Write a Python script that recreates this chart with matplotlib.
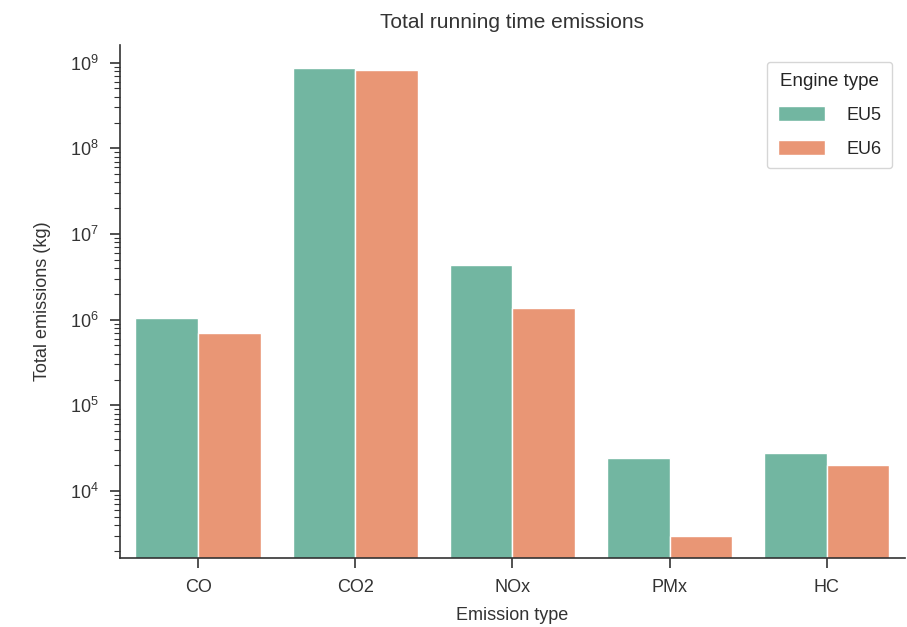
import matplotlib
matplotlib.use("Agg")
import matplotlib.pyplot as plt
import matplotlib.ticker as mticker
import seaborn as sns
import numpy as np

emission_types = ["CO", "CO2", "NOx", "PMx", "HC"]
engine_types = ["EU5", "EU6"]
eu5_values = [1.05e6, 8.7e8, 4.3e6, 2.4e4, 2.75e4]
eu6_values = [6.9e5, 8.3e8, 1.38e6, 3.0e3, 2.0e4]
y_decades = [1e4, 1e5, 1e6, 1e7, 1e8, 1e9]

sns.set_style("ticks")
plt.rcParams["font.family"] = ["Liberation Sans", "DejaVu Sans"]
# seaborn barplot draws with saturation=0.75
colors = [sns.desaturate(c, 0.75) for c in sns.color_palette("Set2", 2)]

fig = plt.figure(figsize=(9.07, 6.27), dpi=100)
ax = fig.add_axes([0.132, 0.11, 0.866, 0.818])

x = np.arange(len(emission_types))
w = 0.4
for i, (vals, lab) in enumerate(zip([eu5_values, eu6_values], engine_types)):
    ax.bar(x + (i - 0.5) * w, vals, width=w, color=colors[i], label=lab,
           edgecolor="white", linewidth=1)

ax.set_yscale("log")
ax.set_yticks(y_decades)
ax.yaxis.set_minor_formatter(mticker.NullFormatter())
ax.set_ylim(1650, 1.6e9)
ax.set_xlim(-0.5, 4.5)
ax.set_xticks(x)
ax.set_xticklabels(emission_types, fontsize=13)
ax.tick_params(axis="both", which="major", length=7, width=1.2, pad=8, labelsize=13,
               colors="#333333")
ax.tick_params(axis="y", which="minor", length=4, width=0.8, colors="#333333")
for s in ax.spines.values():
    s.set_linewidth(1.2)
    s.set_color("#333333")
ax.set_xlabel("Emission type", fontsize=13, color="#333333", labelpad=8)
ax.set_ylabel("Total emissions (kg)", fontsize=13, color="#333333", labelpad=14)
ax.set_title("Total running time emissions", fontsize=15, color="#333333", pad=12)
leg = ax.legend(title="Engine type", fontsize=13, title_fontsize=13.5,
                loc="upper right", bbox_to_anchor=(0.995, 0.985),
                labelspacing=0.9, handlelength=2.6, handleheight=0.9,
                borderpad=0.6, handletextpad=1.2)
sns.despine(ax=ax)

fig.savefig("out.png", dpi=100)
